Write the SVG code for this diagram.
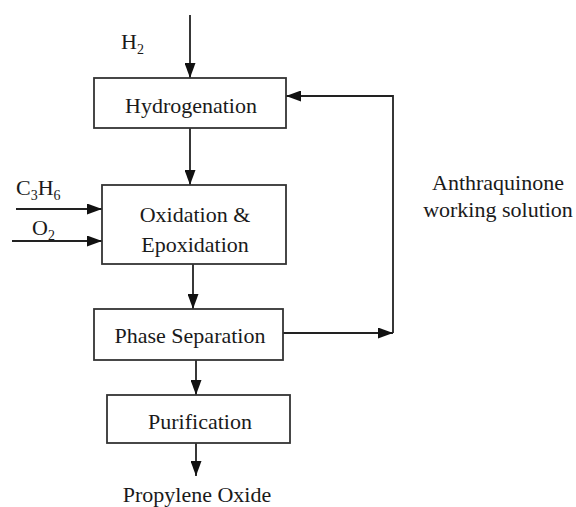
<svg xmlns="http://www.w3.org/2000/svg" width="576" height="507" viewBox="0 0 576 507">
<style>
text{font-family:"Liberation Serif","Times New Roman",serif;font-size:22px;fill:#1a1a1a}
.box{fill:#fff;stroke:#333;stroke-width:1.8}
.c{text-anchor:middle}
.ln{fill:none;stroke:#222;stroke-width:1.8}
.sub{font-size:14px}
</style>
<defs>
<marker id="ah" markerUnits="userSpaceOnUse" markerWidth="15" markerHeight="11" refX="15" refY="5.5" orient="auto">
<path d="M0,0 L15,5.5 L0,11 z" fill="#111"/>
</marker>
</defs>
<rect width="576" height="507" fill="#fff"/>
<g id="connectors">
<line class="ln" x1="190" y1="15" x2="190" y2="78" marker-end="url(#ah)"/>
<line class="ln" x1="190" y1="128" x2="190" y2="185" marker-end="url(#ah)"/>
<line class="ln" x1="16" y1="209" x2="102" y2="209" marker-end="url(#ah)"/>
<line class="ln" x1="12" y1="241" x2="102" y2="241" marker-end="url(#ah)"/>
<line class="ln" x1="193" y1="264" x2="193" y2="309" marker-end="url(#ah)"/>
<line class="ln" x1="283" y1="333" x2="393" y2="333" marker-end="url(#ah)"/>
<path class="ln" d="M393,333 V96 H286" marker-end="url(#ah)"/>
<line class="ln" x1="196" y1="360" x2="196" y2="395" marker-end="url(#ah)"/>
<line class="ln" x1="196" y1="443" x2="196" y2="476" marker-end="url(#ah)"/>
</g>
<g id="h2"><text x="121" y="49">H<tspan class="sub" dy="5">2</tspan></text></g>
<g id="c3h6"><text x="16" y="195">C<tspan class="sub" dy="5">3</tspan><tspan dy="-5">H</tspan><tspan class="sub" dy="5">6</tspan></text></g>
<g id="o2"><text x="32" y="235">O<tspan class="sub" dy="5">2</tspan></text></g>
<g id="hydrogenation">
<rect class="box" x="94" y="78" width="192" height="50"/>
<text class="c" x="191" y="113">Hydrogenation</text>
</g>
<g id="oxidation">
<rect class="box" x="102" y="185" width="184" height="79"/>
<text class="c" x="195" y="222">Oxidation &amp;</text>
<text class="c" x="195" y="252">Epoxidation</text>
</g>
<g id="phase-separation">
<rect class="box" x="94" y="309" width="189" height="51"/>
<text class="c" x="190" y="343">Phase Separation</text>
</g>
<g id="purification">
<rect class="box" x="107" y="395" width="183" height="48"/>
<text class="c" x="200" y="429">Purification</text>
</g>
<g id="propylene-oxide"><text class="c" x="197" y="502">Propylene Oxide</text></g>
<g id="anthraquinone">
<text class="c" x="498" y="190">Anthraquinone</text>
<text class="c" x="498" y="217">working solution</text>
</g>
</svg>
